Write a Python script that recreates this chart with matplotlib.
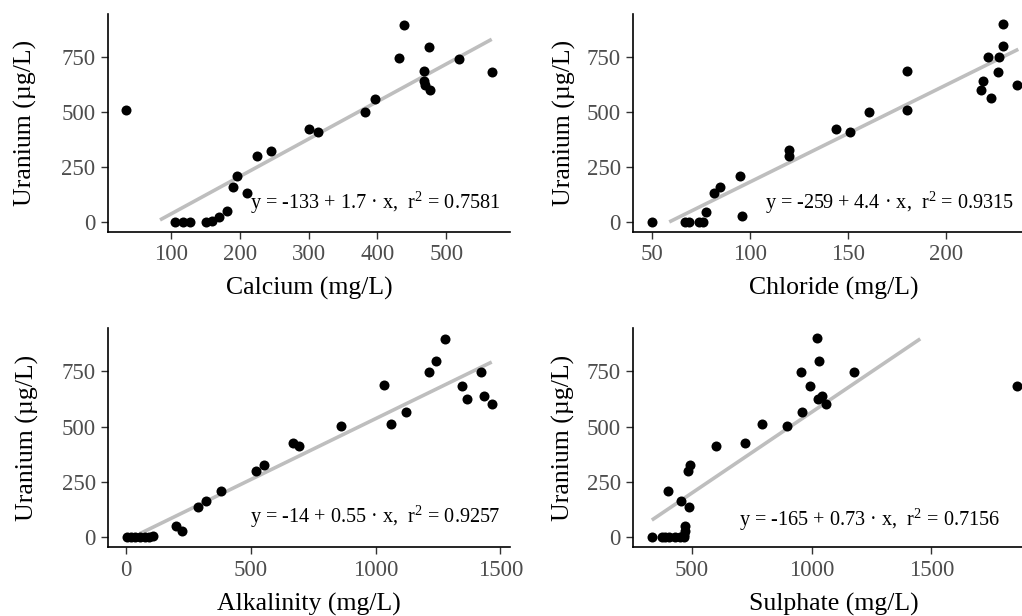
import matplotlib
matplotlib.use("Agg")
import matplotlib.pyplot as plt

plt.rcParams["font.family"] = ["Liberation Serif", "DejaVu Serif"]
plt.rcParams["mathtext.fontset"] = "custom"
plt.rcParams["mathtext.rm"] = "Liberation Serif"
plt.rcParams["mathtext.it"] = "Liberation Serif:italic"

# Calcium panel
calcium = [35, 106, 118, 128, 151, 160, 170, 181, 190, 196, 211, 225, 245,
           300, 314, 382, 396, 432, 438, 468, 468, 469, 475, 476, 518, 566]
u_calcium = [510, 0, 0, 0, 0, 5, 25, 48, 160, 211, 133, 300, 324,
             423, 410, 498, 560, 744, 895, 684, 640, 622, 795, 598, 742, 681]

# Chloride panel
chloride = [50, 67, 69, 74, 76, 78, 82, 85, 95, 96, 120, 120, 144, 151, 161,
            180, 180, 218, 219, 221.5, 223, 226.4, 227.4, 229.4, 229.4, 236.2]
u_chloride = [0, 0, 0, 0, 0, 45, 133, 160, 211, 27, 327, 298, 423, 410, 498,
              684, 509, 600, 642, 748, 562, 683, 748, 897, 799, 622]

# Alkalinity panel
alkalinity = [3, 20, 35, 55, 75, 92, 108, 200, 224, 290, 322, 382, 522, 554,
              670, 694, 863, 1032, 1063, 1123, 1213, 1242, 1276, 1345, 1365,
              1422, 1435, 1465]
u_alkalinity = [0, 0, 0, 0, 0, 3, 7, 50, 30, 135, 163, 208, 301, 328,
                428, 414, 503, 687, 514, 567, 747, 797, 898, 682, 624,
                747, 639, 600]

# Sulphate panel
sulphate = [332, 375, 389, 403, 430, 451, 467, 469, 470, 471, 401, 453, 490,
            483, 493, 601, 721, 794, 899, 960, 954, 992, 1021, 1032, 1028,
            1042, 1060, 1179, 1857]
u_sulphate = [0, 0, 0, 0, 0, 0, 0, 10, 27, 50, 210, 162, 139,
              301, 328, 414, 428, 514, 501, 565, 748, 685, 899, 798, 626,
              640, 602, 748, 685]

x_labels = ["Calcium (mg/L)", "Chloride (mg/L)", "Alkalinity (mg/L)", "Sulphate (mg/L)"]
x_ticks = [[100, 200, 300, 400, 500], [50, 100, 150, 200],
           [0, 500, 1000, 1500], [500, 1000, 1500]]
y_ticks = [0, 250, 500, 750]

# fitted lines shown on each panel
fit_intercept = [-133, -259, -14, -165]
fit_slope = [1.7, 4.4, 0.55, 0.73]
fit_x_start = [84, 59, 55, 333]
fit_x_end = [566, 237, 1465, 1454]
fit_r2 = ["0.7581", "0.9315", "0.9257", "0.7156"]

xs = [calcium, chloride, alkalinity, sulphate]
ys = [u_calcium, u_chloride, u_alkalinity, u_sulphate]

# layout (figure fractions) and label placement (axes fractions)
positions = [
    [0.1057, 0.6234, 0.3933, 0.3539],
    [0.6197, 0.6234, 0.3930, 0.3539],
    [0.1060, 0.1115, 0.3930, 0.3555],
    [0.6197, 0.1115, 0.3930, 0.3555],
]
eq_pos = [(0.353, 0.105), (0.328, 0.105), (0.353, 0.11), (0.263, 0.10)]
ylabel_x = [-0.205, -0.171, -0.201, -0.174]

TICK_COLOR = "#4D4D4D"
LINE_COLOR = "#BEBEBE"


def expand(lo, hi, frac=0.05):
    pad = (hi - lo) * frac
    return lo - pad, hi + pad


fig = plt.figure(figsize=(10.22, 6.16), dpi=100)

for i in range(4):
    ax = fig.add_axes(positions[i])
    x, y = xs[i], ys[i]

    lx = [fit_x_start[i], fit_x_end[i]]
    ly = [fit_intercept[i] + fit_slope[i] * v for v in lx]
    ax.plot(lx, ly, color=LINE_COLOR, lw=2.6, solid_capstyle="butt", zorder=2)
    ax.scatter(x, y, s=52, color="black", linewidths=0, zorder=3)

    ax.set_xlim(*expand(min(x), max(x)))
    ax.set_ylim(*expand(0, max(max(v) for v in ys)))
    ax.set_xticks(x_ticks[i])
    ax.set_yticks(y_ticks)

    for side in ["top", "right"]:
        ax.spines[side].set_visible(False)
    for side in ["left", "bottom"]:
        ax.spines[side].set_linewidth(1.2)
        ax.spines[side].set_color("black")
    ax.tick_params(axis="both", length=5, width=1.0, color="#333333",
                   labelcolor=TICK_COLOR, labelsize=16.5, pad=4)

    ax.set_xlabel(x_labels[i], fontsize=18.5, va="center")
    ax.xaxis.set_label_coords(0.5, -0.26)
    ax.set_ylabel("Uranium (µg/L)", fontsize=18.5, va="center")
    ax.yaxis.set_label_coords(ylabel_x[i], 0.5)

    b = fit_intercept[i]
    m = fit_slope[i]
    eq = f"y = {b} + {m} · x,  r$^2$ = {fit_r2[i]}"
    ax.text(eq_pos[i][0], eq_pos[i][1], eq, transform=ax.transAxes,
            fontsize=14.6, ha="left", va="baseline", color="black")

fig.savefig("out.png", dpi=100, facecolor="white")
